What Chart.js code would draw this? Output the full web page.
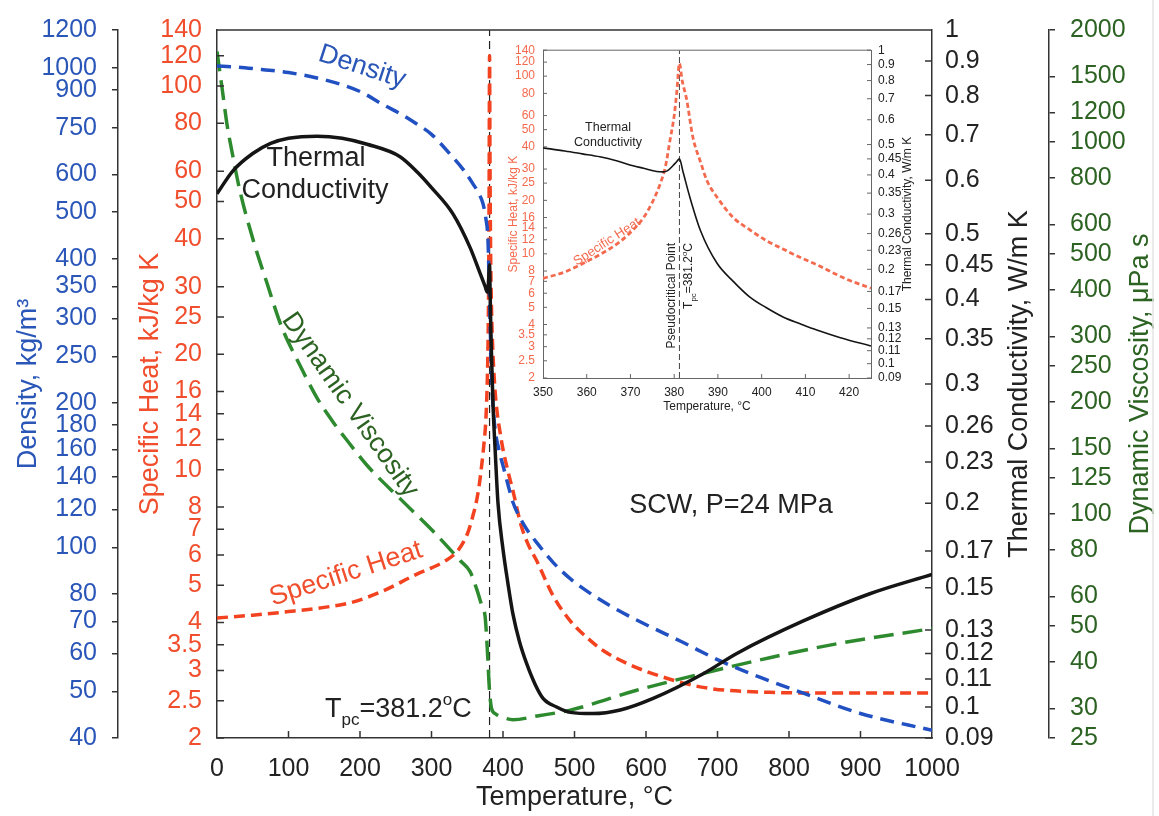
<!DOCTYPE html>
<html>
<head>
<meta charset="utf-8">
<script src="https://cdn.jsdelivr.net/npm/chart.js@4.4.1/dist/chart.umd.min.js"></script>
<style>
  html, body { margin: 0; padding: 0; background: #fff; }
  #wrap { position: relative; width: 1159px; height: 816px; overflow: hidden; }
  #mainChart { position: absolute; left: 0; top: 0; }
  #insetChart { position: absolute; left: 500px; top: 35px; }
</style>
</head>
<body>
<div id="wrap">
  <canvas id="mainChart" width="1159" height="816"></canvas>
  <canvas id="insetChart" width="430" height="390"></canvas>
</div>
<script>
const FONT = '"Liberation Sans", Arial, Helvetica, sans-serif';
const BLUE = '#2a56b8';
const BLUE_LINE = '#2150c2';
const RED = '#f04e2c';
const RED_LINE = '#f2421f';
const GREEN = '#2e8a2e';
const GREEN_TXT = '#2c6322';
const BLACK = '#151515';
const INSET_RED = '#f46a4e';

// pseudocritical temperature, °C
const Tpc = 381.2;

// main chart, temperature in °C
const densityT = [0, 25, 50, 100, 150, 200, 232, 260, 280, 300, 326, 345, 358, 366, 372, 376, 379, 381.2, 382, 384, 386, 389, 395, 400, 407, 414, 430, 450, 470, 494, 520, 550, 587, 650, 703, 760, 820, 900, 1000];
const density = [1010, 1005, 997, 978, 945, 893, 839, 797, 763, 727, 661, 612, 573, 548, 521, 485, 437, 330, 294, 230, 198, 176, 158, 148, 135, 124, 111, 101, 93, 86, 80.5, 75.5, 70.5, 63.5, 58, 53.5, 49.6, 45, 41.5];

const cpT = [0, 50, 100, 150, 186, 232, 279, 300, 320, 335, 345, 352, 358, 363, 367, 370, 373, 376, 378, 379, 380, 380.6, 381.2, 381.8, 382.5, 384, 386, 389, 392, 396, 400, 407, 414, 425, 435, 447, 470, 494, 520, 540, 575, 610, 680, 773, 850, 1000];
const cp = [4.11, 4.18, 4.27, 4.38, 4.5, 4.83, 5.34, 5.55, 5.8, 6.1, 6.5, 6.95, 7.6, 8.3, 9.2, 10.2, 11.5, 13.5, 17, 21, 32, 55, 120, 65, 40, 26, 20, 16, 14, 12.5, 11.3, 9.9, 8.8, 7.2, 6.4, 5.8, 4.7, 4.04, 3.62, 3.38, 3.12, 2.94, 2.71, 2.63, 2.62, 2.62];

const condT = [0, 22, 50, 75, 100, 140, 175, 210, 256, 280, 300, 330, 354, 368, 375, 378, 379.5, 380.5, 381.2, 382, 383, 384, 386, 389, 393, 400, 407, 414, 423, 433, 445, 456, 475, 494, 526, 564, 610, 680, 727, 820, 913, 1000];
const cond = [0.573, 0.619, 0.657, 0.68, 0.692, 0.697, 0.692, 0.678, 0.65, 0.617, 0.585, 0.535, 0.477, 0.437, 0.418, 0.41, 0.42, 0.44, 0.45, 0.41, 0.36, 0.33, 0.28, 0.24, 0.2, 0.171, 0.152, 0.137, 0.125, 0.116, 0.108, 0.103, 0.1, 0.0982, 0.0978, 0.099, 0.103, 0.112, 0.12, 0.134, 0.147, 0.157];

const viscT = [0, 7, 14, 22, 32, 50, 70, 90, 116, 140, 163, 185, 210, 256, 302, 340, 354, 363, 370, 375, 377, 379, 380.5, 382, 384, 390, 400, 414, 450, 494, 587, 680, 773, 867, 1000];
const visc = [1750, 1400, 1115, 920, 740, 550, 417, 320, 251, 205, 176, 155, 135, 110, 90, 75, 70, 63, 57, 53, 47, 40, 35, 32, 30, 29, 28.4, 28, 28.7, 29.7, 33.6, 37.3, 41.1, 44.8, 49.2];

// inset, 350-425 °C
const insetCpT = [350, 355, 359, 363, 367, 370, 373, 375, 376.8, 378, 379, 380, 380.6, 381.2, 381.8, 382.8, 384.3, 386, 387.5, 390, 393.5, 397, 401, 405, 409, 413, 416.4, 420, 425];
const insetCp = [7.28, 7.9, 8.8, 9.9, 11.4, 13.2, 16, 19.5, 24.8, 31, 43, 60, 82, 118, 95, 75, 45, 33, 25.8, 20.5, 16, 13.8, 11.9, 10.6, 9.5, 8.6, 7.8, 7.1, 6.4];
const insetCondT = [350, 355, 359, 363, 367, 370.6, 373, 376, 377.5, 378.5, 379.7, 380.5, 381.2, 382, 383.6, 386, 389.8, 393.5, 397.3, 401, 405, 408.8, 412.6, 418, 425];
const insetCond = [0.488, 0.477, 0.467, 0.457, 0.443, 0.428, 0.42, 0.41, 0.409, 0.413, 0.428, 0.44, 0.45, 0.41, 0.339, 0.266, 0.209, 0.183, 0.163, 0.151, 0.1406, 0.134, 0.128, 0.121, 0.1138];

// tick labels
const xTicks = [0, 100, 200, 300, 400, 500, 600, 700, 800, 900, 1000];
const densityTicks = [1200, 1000, 900, 750, 600, 500, 400, 350, 300, 250, 200, 180, 160, 140, 120, 100, 80, 70, 60, 50, 40];
const cpTicks = [140, 120, 100, 80, 60, 50, 40, 30, 25, 20, 16, 14, 12, 10, 8, 7, 6, 5, 4, 3.5, 3, 2.5, 2];
const condTicks = [1, 0.9, 0.8, 0.7, 0.6, 0.5, 0.45, 0.4, 0.35, 0.3, 0.26, 0.23, 0.2, 0.17, 0.15, 0.13, 0.12, 0.11, 0.1, 0.09];
const viscTicks = [2000, 1500, 1200, 1000, 800, 600, 500, 400, 300, 250, 200, 150, 125, 100, 80, 60, 50, 40, 30, 25];
const insetXTicks = [350, 360, 370, 380, 390, 400, 410, 420];

function pts(xs, ys) { return xs.map((x, i) => ({ x: x, y: ys[i] })); }
function fixTicks(values) { return axis => { axis.ticks = values.map(v => ({ value: v })); }; }
function fixWidth(w) { return axis => { axis.width = w; }; }
function fixHeight(h) { return axis => { axis.height = h; }; }

function valueAxis(o) {
  return {
    type: 'logarithmic',
    position: o.position,
    weight: o.weight,
    bounds: 'data',
    min: o.min,
    max: o.max,
    afterBuildTicks: fixTicks(o.ticks),
    afterFit: fixWidth(o.width),
    border: { display: true, color: o.frame || '#333', width: o.lw || 1.5 },
    grid: { drawOnChartArea: false, drawTicks: o.outTick > 0, tickLength: o.outTick || 0, color: o.frame || '#333', lineWidth: o.lw || 1.5 },
    ticks: { autoSkip: false, padding: o.pad, color: o.color, font: { family: FONT, size: o.size }, callback: v => String(v) },
    title: o.title ? { display: true, text: o.title, color: o.color, font: { family: FONT, size: o.titleSize }, padding: { top: o.titlePad, bottom: 0 } } : { display: false }
  };
}

function drawText(ctx, str, x, y, size, color, angle, align) {
  ctx.save();
  ctx.translate(x, y);
  if (angle) ctx.rotate(angle * Math.PI / 180);
  ctx.font = size + 'px ' + FONT;
  ctx.fillStyle = color;
  ctx.textAlign = align || 'center';
  ctx.textBaseline = 'middle';
  ctx.fillText(str, 0, 0);
  ctx.restore();
}

// "Tpc=381.2 oC" with subscript and superscript, baseline at (x, y)
function drawTpc(ctx, x, y, size, color, angle, endAligned) {
  const small = Math.round(size * 0.63);
  const runs = [['T', size, 0], ['pc', small, size * 0.3], ['=381.2', size, 0], ['o', small, -size * 0.45], ['C', size, 0]];
  ctx.save();
  ctx.translate(x, y);
  if (angle) ctx.rotate(angle * Math.PI / 180);
  ctx.fillStyle = color;
  ctx.textAlign = 'left';
  ctx.textBaseline = 'alphabetic';
  let total = 0;
  runs.forEach(r => { ctx.font = r[1] + 'px ' + FONT; total += ctx.measureText(r[0]).width; });
  let cx = endAligned ? -total : 0;
  runs.forEach(r => {
    ctx.font = r[1] + 'px ' + FONT;
    ctx.fillText(r[0], cx, r[2]);
    cx += ctx.measureText(r[0]).width;
  });
  ctx.restore();
}

// ticks that point into the plot, plus the top frame line
function frameAndTicks(chart, inner, color, lw) {
  const ctx = chart.ctx, a = chart.chartArea;
  ctx.save();
  ctx.strokeStyle = color;
  ctx.lineWidth = lw;
  ctx.beginPath();
  ctx.moveTo(a.left, a.top);
  ctx.lineTo(a.right, a.top);
  inner.forEach(d => {
    const s = chart.scales[d.id];
    s.ticks.forEach(t => {
      const p = s.getPixelForValue(t.value);
      if (d.side === 'left') { ctx.moveTo(a.left, p); ctx.lineTo(a.left + d.len, p); }
      if (d.side === 'right') { ctx.moveTo(a.right, p); ctx.lineTo(a.right - d.len, p); }
      if (d.side === 'bottom' && p > a.left + 1 && p < a.right - 1) { ctx.moveTo(p, a.bottom); ctx.lineTo(p, a.bottom - d.len); }
    });
  });
  ctx.stroke();
  ctx.restore();
}

const mainDecor = {
  id: 'mainDecor',
  afterDraw(chart) {
    const ctx = chart.ctx;
    const a = chart.chartArea;
    const cy = (a.top + a.bottom) / 2;
    frameAndTicks(chart, [
      { id: 'yCp', side: 'left', len: 7 },
      { id: 'yCond', side: 'right', len: 7 },
      { id: 'x', side: 'bottom', len: 7 }
    ], '#333', 1.5);

    // right axis titles read bottom to top
    drawText(ctx, 'Thermal Conductivity, W/m K', 1020, cy, 27, '#222', -90);
    drawText(ctx, 'Dynamic Viscosity, \u03bcPa s', 1141, cy, 27, GREEN_TXT, -90);

    // curve labels
    drawText(ctx, 'Density', 362, 67, 27, BLUE, 18);
    drawText(ctx, 'Thermal', 316, 159, 27, '#222');
    drawText(ctx, 'Conductivity', 315, 191, 27, '#222');
    drawText(ctx, 'Dynamic Viscosity', 350, 405, 27, GREEN_TXT, 55);
    drawText(ctx, 'Specific Heat', 346, 574, 27, RED, -18);
    drawText(ctx, 'SCW, P=24 MPa', 731, 506, 27, '#222');
    drawTpc(ctx, 325, 717, 27, '#222', 0, false);

    // faint page edge on the right
    ctx.save();
    ctx.strokeStyle = '#e4e4e4';
    ctx.lineWidth = 1.5;
    ctx.beginPath();
    ctx.moveTo(1153, 0);
    ctx.lineTo(1153, 816);
    ctx.stroke();
    ctx.restore();
  }
};

const insetDecor = {
  id: 'insetDecor',
  afterDraw(chart) {
    const ctx = chart.ctx;
    const a = chart.chartArea;
    frameAndTicks(chart, [
      { id: 'yCp', side: 'left', len: 4 },
      { id: 'yCond', side: 'right', len: 4 },
      { id: 'x', side: 'bottom', len: 4 }
    ], '#666', 1);
    drawText(ctx, 'Thermal Conductivity, W/m K', 408, (a.top + a.bottom) / 2, 12, '#222', -90);
    drawText(ctx, 'Thermal', 108, 93, 12.5, '#222');
    drawText(ctx, 'Conductivity', 108, 108, 12.5, '#222');
    drawText(ctx, 'Specific Heat', 107, 207, 13, INSET_RED, -33);
    drawText(ctx, 'Pseudocritical Point', 172, 208, 12, '#222', -90, 'right');
    drawTpc(ctx, 192, 208, 12, '#222', -90, true);
  }
};

Chart.defaults.font.family = FONT;

new Chart(document.getElementById('mainChart'), {
  type: 'line',
  data: {
    datasets: [
      { label: 'Thermal Conductivity', data: pts(condT, cond), yAxisID: 'yCond', borderColor: BLACK, borderWidth: 3.5 },
      { label: 'Density', data: pts(densityT, density), yAxisID: 'yDen', borderColor: BLUE_LINE, borderWidth: 3.5, borderDash: [14, 8] },
      { label: 'Specific Heat', data: pts(cpT, cp), yAxisID: 'yCp', borderColor: RED_LINE, borderWidth: 3.5, borderDash: [11, 6] },
      { label: 'Dynamic Viscosity', data: pts(viscT, visc), yAxisID: 'yVisc', borderColor: GREEN, borderWidth: 3.5, borderDash: [20, 9] },
      { label: 'Tpc', data: [{ x: Tpc, y: 40 }, { x: Tpc, y: 1200 }], yAxisID: 'yDen', borderColor: '#222', borderWidth: 1.2, borderDash: [8, 5], tension: 0, cubicInterpolationMode: 'default' }
    ]
  },
  options: {
    responsive: false,
    animation: false,
    devicePixelRatio: 1,
    elements: { point: { radius: 0 }, line: { cubicInterpolationMode: 'monotone', fill: false } },
    plugins: { legend: { display: false }, tooltip: { enabled: false } },
    layout: { padding: { top: 25, left: 0, right: 0, bottom: 0 } },
    scales: {
      x: {
        type: 'linear',
        bounds: 'data',
        min: 0,
        max: 1000,
        afterBuildTicks: fixTicks(xTicks),
        afterFit: fixHeight(78),
        border: { display: true, color: '#333', width: 1.5 },
        grid: { drawOnChartArea: false, drawTicks: false },
        ticks: { autoSkip: false, maxRotation: 0, padding: 16, color: '#222', font: { family: FONT, size: 25 }, callback: v => String(v) },
        title: { display: true, text: 'Temperature, \u00b0C', color: '#222', font: { family: FONT, size: 27 }, padding: { top: 0, bottom: 2 } }
      },
      yDen: valueAxis({ position: 'left', weight: 2, min: 40, max: 1200, ticks: densityTicks, width: 118, outTick: 6, pad: 15, color: BLUE, size: 25, title: 'Density, kg/m\u00b3', titleSize: 27, titlePad: 12 }),
      yCp: valueAxis({ position: 'left', weight: 1, min: 2, max: 140, ticks: cpTicks, width: 99, outTick: 0, pad: 15, color: RED, size: 25, title: 'Specific Heat, kJ/kg K', titleSize: 27, titlePad: 16 }),
      yCond: valueAxis({ position: 'right', weight: 1, min: 0.09, max: 1, ticks: condTicks, width: 117, outTick: 0, pad: 13, color: '#222', size: 25 }),
      yVisc: valueAxis({ position: 'right', weight: 2, min: 25, max: 2000, ticks: viscTicks, width: 110, outTick: 6, pad: 15, color: GREEN_TXT, size: 25 })
    }
  },
  plugins: [mainDecor]
});

new Chart(document.getElementById('insetChart'), {
  type: 'line',
  data: {
    datasets: [
      { label: 'Thermal Conductivity', data: pts(insetCondT, insetCond), yAxisID: 'yCond', borderColor: BLACK, borderWidth: 1.6 },
      { label: 'Specific Heat', data: pts(insetCpT, insetCp), yAxisID: 'yCp', borderColor: INSET_RED, borderWidth: 2.8, borderDash: [5, 3] },
      { label: 'Tpc', data: [{ x: Tpc, y: 2 }, { x: Tpc, y: 140 }], yAxisID: 'yCp', borderColor: '#444', borderWidth: 1, borderDash: [6, 3], tension: 0, cubicInterpolationMode: 'default' }
    ]
  },
  options: {
    responsive: false,
    animation: false,
    devicePixelRatio: 1,
    elements: { point: { radius: 0 }, line: { cubicInterpolationMode: 'monotone', fill: false } },
    plugins: { legend: { display: false }, tooltip: { enabled: false } },
    layout: { padding: { top: 14, left: 0, right: 0, bottom: 0 } },
    scales: {
      x: {
        type: 'linear',
        bounds: 'data',
        min: 350,
        max: 425,
        afterBuildTicks: fixTicks(insetXTicks),
        afterFit: fixHeight(47),
        border: { display: true, color: '#666', width: 1 },
        grid: { drawOnChartArea: false, drawTicks: false },
        ticks: { autoSkip: false, maxRotation: 0, padding: 7, color: '#222', font: { family: FONT, size: 12 }, callback: v => String(v) },
        title: { display: true, text: 'Temperature, \u00b0C', color: '#222', font: { family: FONT, size: 12 }, padding: { top: 0, bottom: 11 } }
      },
      yCp: valueAxis({ position: 'left', weight: 1, min: 2, max: 140, ticks: cpTicks, width: 43, outTick: 0, pad: 8, color: INSET_RED, size: 12, frame: '#666', lw: 1, title: 'Specific Heat, kJ/kg K', titleSize: 12, titlePad: 6 }),
      yCond: valueAxis({ position: 'right', weight: 1, min: 0.09, max: 1, ticks: condTicks, width: 59, outTick: 0, pad: 7, color: '#222', size: 12, frame: '#666', lw: 1 })
    }
  },
  plugins: [insetDecor]
});
</script>
</body>
</html>
